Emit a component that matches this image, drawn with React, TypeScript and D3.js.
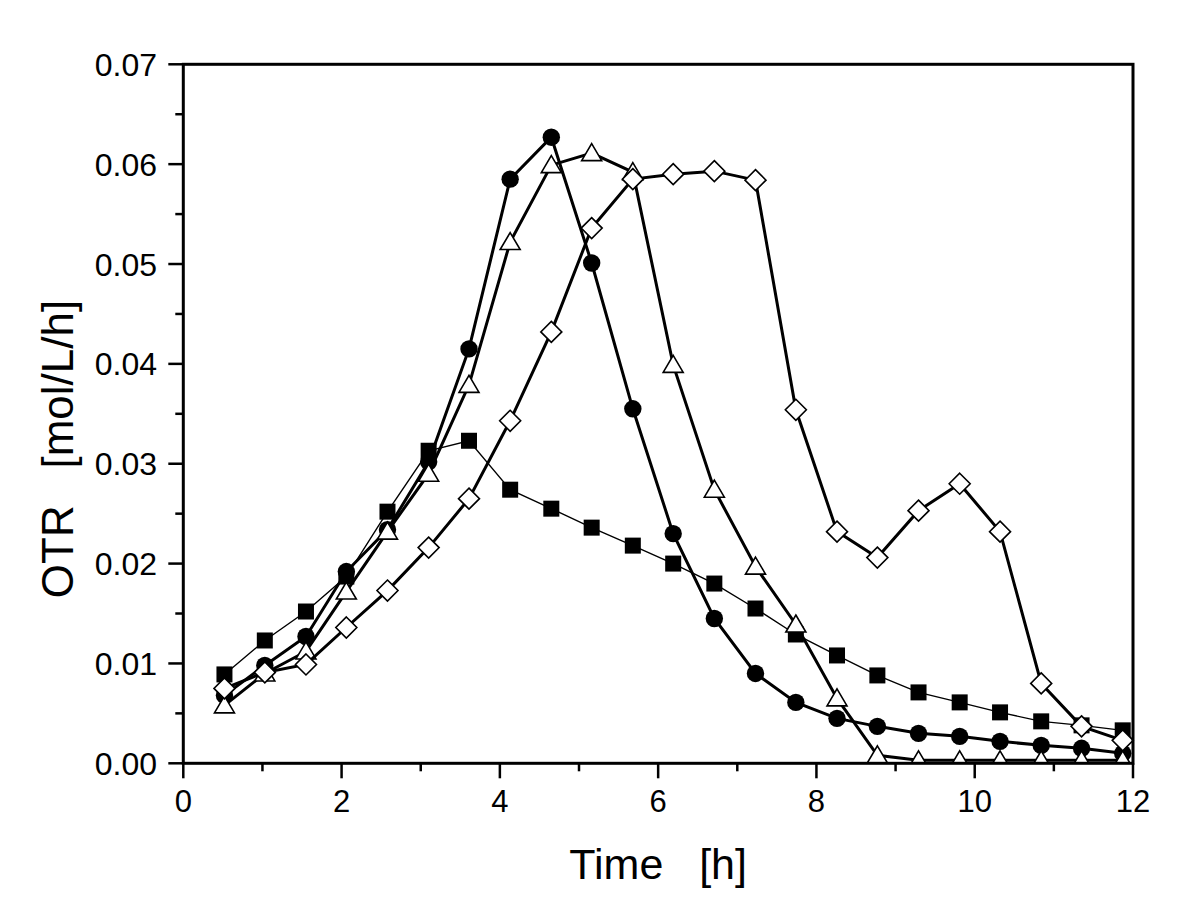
import React from "react";
import * as d3 from "d3";

const times = [0.52, 1.03, 1.55, 2.06, 2.58, 3.1, 3.61, 4.13, 4.65, 5.16, 5.68, 6.19, 6.71, 7.23, 7.74, 8.26, 8.77, 9.29, 9.81, 10.32, 10.84, 11.35, 11.87];

const squareSeries = [0.0089, 0.0123, 0.0152, 0.0187, 0.0252, 0.0313, 0.0323, 0.0274, 0.0255, 0.0236, 0.0218, 0.02, 0.018, 0.0155, 0.0129, 0.0108, 0.0088, 0.0071, 0.0061, 0.0051, 0.0042, 0.0038, 0.0033];
const circleSeries = [0.0068, 0.0098, 0.0127, 0.0192, 0.0234, 0.0302, 0.0415, 0.0585, 0.0627, 0.0501, 0.0355, 0.023, 0.0145, 0.009, 0.0061, 0.0045, 0.0037, 0.003, 0.0027, 0.0022, 0.0018, 0.0015, 0.001];
const triangleSeries = [0.0058, 0.009, 0.0112, 0.0172, 0.0232, 0.029, 0.0379, 0.0522, 0.0599, 0.0611, 0.0592, 0.0399, 0.0274, 0.0197, 0.0139, 0.0065, 0.0008, 0.0003, 0.0003, 0.0003, 0.0003, 0.0003, 0.0003];
const diamondSeries = [0.0075, 0.0091, 0.0099, 0.0136, 0.0173, 0.0216, 0.0265, 0.0343, 0.0432, 0.0536, 0.0585, 0.059, 0.0593, 0.0584, 0.0354, 0.0232, 0.0206, 0.0253, 0.028, 0.0232, 0.008, 0.0037, 0.0023];

const xMajorTicks = [0, 2, 4, 6, 8, 10, 12];
const xMinorTicks = [1, 3, 5, 7, 9, 11];
const yMajorTicks = [0, 0.01, 0.02, 0.03, 0.04, 0.05, 0.06, 0.07];
const yMinorTicks = [0.005, 0.015, 0.025, 0.035, 0.045, 0.055, 0.065];

const xTitle = "Time   [h]";
const yTitle = "OTR   [mol/L/h]";

const W = 1200;
const H = 924;
const left = 183.3;
const right = 1133;
const top = 64.3;
const bottom = 763.3;
const FONT = "'Liberation Sans', Arial, sans-serif";

export default function App() {
  const x = d3.scaleLinear().domain([0, 12]).range([left, right]);
  const y = d3.scaleLinear().domain([0, 0.07]).range([bottom, top]);

  const lineGen = d3
    .line<[number, number]>()
    .x((d) => x(d[0]))
    .y((d) => y(d[1]));

  const pts = (vals: number[]) => times.map((t, i) => [t, vals[i]] as [number, number]);

  const tri = (cx: number, cy: number) => {
    const s = 10;
    const h = 17;
    return `M${cx},${cy - h / 2 - 1}L${cx + s},${cy + h / 2 - 1}L${cx - s},${cy + h / 2 - 1}Z`;
  };
  const dia = (cx: number, cy: number) => {
    const r = 10.5;
    return `M${cx},${cy - r}L${cx + r},${cy}L${cx},${cy + r}L${cx - r},${cy}Z`;
  };

  return (
    <svg width={W} height={H} style={{ position: "absolute", left: 0, top: 0, background: "#fff" }}>
      <defs>
        <clipPath id="plotClip">
          <rect x={left} y={top - 20} width={right - left + 20} height={bottom - top + 20} />
        </clipPath>
      </defs>
      <rect x={0} y={0} width={W} height={H} fill="#fff" />

      <g clipPath="url(#plotClip)">
        <path d={lineGen(pts(squareSeries)) || ""} fill="none" stroke="#000" strokeWidth={1.4} />
        {pts(squareSeries).map((d, i) => (
          <rect key={"s" + i} x={x(d[0]) - 8} y={y(d[1]) - 8} width={16} height={16} fill="#000" />
        ))}
        <path d={lineGen(pts(circleSeries)) || ""} fill="none" stroke="#000" strokeWidth={3} />
        {pts(circleSeries).map((d, i) => (
          <circle key={"c" + i} cx={x(d[0])} cy={y(d[1])} r={8.7} fill="#000" />
        ))}
        <path d={lineGen(pts(triangleSeries)) || ""} fill="none" stroke="#000" strokeWidth={3} />
        {pts(triangleSeries).map((d, i) => (
          <path key={"t" + i} d={tri(x(d[0]), y(d[1]))} fill="#fff" stroke="#000" strokeWidth={1.6} />
        ))}
        <path d={lineGen(pts(diamondSeries)) || ""} fill="none" stroke="#000" strokeWidth={3} />
        {pts(diamondSeries).map((d, i) => (
          <path key={"d" + i} d={dia(x(d[0]), y(d[1]))} fill="#fff" stroke="#000" strokeWidth={1.6} />
        ))}
      </g>

      <rect x={left} y={top} width={right - left} height={bottom - top} fill="none" stroke="#000" strokeWidth={3} />

      {xMajorTicks.map((t) => (
        <line key={"xM" + t} x1={x(t)} x2={x(t)} y1={bottom} y2={bottom + 15} stroke="#000" strokeWidth={2.5} />
      ))}
      {xMinorTicks.map((t) => (
        <line key={"xm" + t} x1={x(t)} x2={x(t)} y1={bottom} y2={bottom + 8} stroke="#000" strokeWidth={2.5} />
      ))}
      {xMajorTicks.map((t) => (
        <text key={"xl" + t} x={x(t)} y={812} textAnchor="middle" fontFamily={FONT} fontSize={31} fill="#000">
          {t}
        </text>
      ))}

      {yMajorTicks.map((t) => (
        <line key={"yM" + t} x1={left - 15} x2={left} y1={y(t)} y2={y(t)} stroke="#000" strokeWidth={2.5} />
      ))}
      {yMinorTicks.map((t) => (
        <line key={"ym" + t} x1={left - 8} x2={left} y1={y(t)} y2={y(t)} stroke="#000" strokeWidth={2.5} />
      ))}
      {yMajorTicks.map((t) => (
        <text key={"yl" + t} x={157} y={y(t) + 11.5} textAnchor="end" fontFamily={FONT} fontSize={32} fill="#000">
          {t.toFixed(2)}
        </text>
      ))}

      <text x={(left + right) / 2} y={879} textAnchor="middle" fontFamily={FONT} fontSize={43} fill="#000" style={{ whiteSpace: "pre" }}>
        {xTitle}
      </text>
      <text
        transform={`translate(73,449) rotate(-90)`}
        textAnchor="middle"
        fontFamily={FONT}
        fontSize={44}
        fill="#000"
        style={{ whiteSpace: "pre" }}
      >
        {yTitle}
      </text>
    </svg>
  );
}
